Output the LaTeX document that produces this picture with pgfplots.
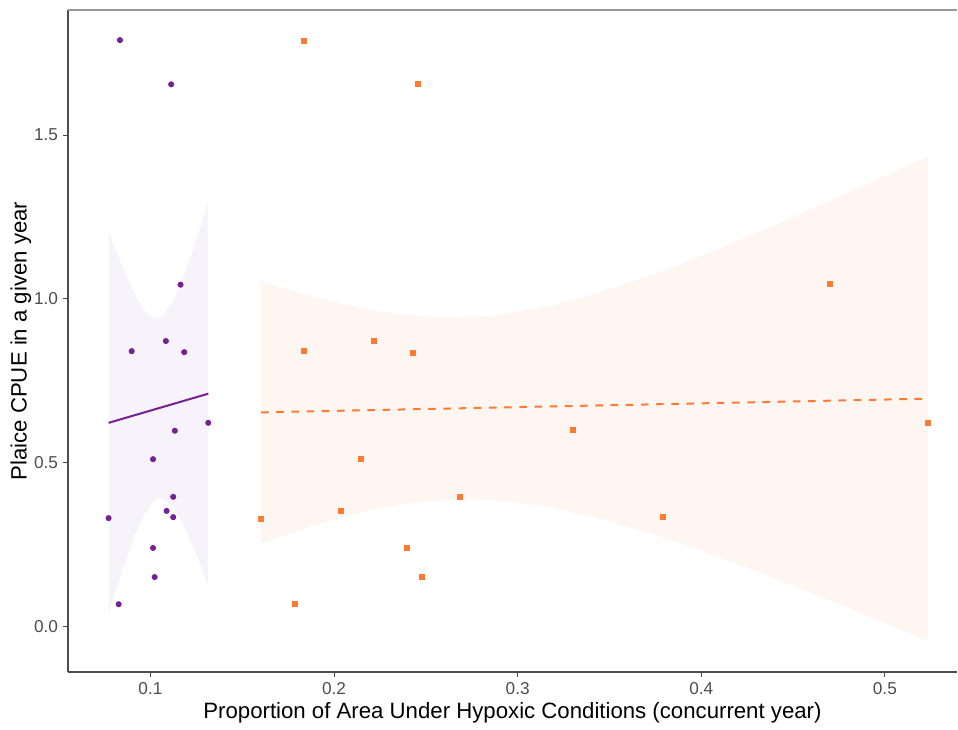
\documentclass[border=0pt]{standalone}
\usepackage{pgfplots}
\pgfplotsset{compat=1.18}
\usepackage{fontspec}
\setmainfont{Liberation Sans}
\usepgfplotslibrary{fillbetween}
\definecolor{cpurple}{HTML}{762193}
\definecolor{corange}{HTML}{FF7A33}
\definecolor{rpurple}{HTML}{F7F3FA}
\definecolor{rorange}{HTML}{FFF6F2}
\definecolor{ticktext}{HTML}{4D4D4D}

\pgfplotstableread{
x y
0.0834 1.790
0.1113 1.655
0.1164 1.043
0.1084 0.871
0.0898 0.840
0.1184 0.837
0.1315 0.621
0.1133 0.597
0.1014 0.510
0.1124 0.395
0.0772 0.330
0.1088 0.352
0.1124 0.333
0.1014 0.239
0.1023 0.150
0.0827 0.067
}\purplepts

\pgfplotstableread{
x y
0.1834 1.789
0.2459 1.656
0.2216 0.871
0.1838 0.840
0.2431 0.836
0.3301 0.599
0.4701 1.045
0.5237 0.621
0.2145 0.510
0.2040 0.352
0.1602 0.328
0.2687 0.395
0.3789 0.334
0.2399 0.238
0.2481 0.150
0.1787 0.067
}\orangepts

\pgfplotstableread{
x fit up lo
0.0772 0.6210 1.207 0.035
0.0820 0.6289 1.136 0.122
0.0870 0.6371 1.067 0.207
0.0920 0.6453 1.007 0.284
0.0970 0.6535 0.962 0.345
0.1020 0.6617 0.940 0.383
0.1043 0.6655 0.9405 0.3905
0.1070 0.6699 0.950 0.390
0.1120 0.6781 0.990 0.366
0.1170 0.6863 1.053 0.320
0.1220 0.6945 1.130 0.259
0.1270 0.7027 1.216 0.189
0.1315 0.7101 1.298 0.122
}\purplefit

\pgfplotstableread{
x fit up lo
0.1602 0.6530 1.0540 0.2520
0.1800 0.6553 1.0200 0.2910
0.2000 0.6576 0.9895 0.3257
0.2200 0.6599 0.9655 0.3543
0.2400 0.6622 0.9493 0.3751
0.2680 0.6654 0.9424 0.3884
0.2900 0.6679 0.9512 0.3846
0.3200 0.6714 0.9817 0.3611
0.3500 0.6748 1.0289 0.3207
0.3800 0.6783 1.0876 0.2690
0.4100 0.6818 1.1536 0.2100
0.4400 0.6852 1.2245 0.1459
0.4700 0.6887 1.2986 0.0788
0.5000 0.6922 1.3750 0.0094
0.5237 0.6950 1.4365 -0.0465
}\orangefit

\begin{document}
\begin{tikzpicture}
\begin{axis}[
  scale only axis,
  width=444.5pt, height=331pt,
  xmin=0.0551, xmax=0.5393,
  ymin=-0.140, ymax=1.882,
  xtick={0.1,0.2,0.3,0.4,0.5},
  ytick={0,0.5,1.0,1.5},
  xticklabels={0.1,0.2,0.3,0.4,0.5},
  yticklabels={0.0,0.5,1.0,1.5},
  tick align=outside,
  major tick length=2.5pt,
  tick style={color=ticktext, line width=0.5pt},
  xtick pos=bottom, ytick pos=left,
  ticklabel style={font=\fontsize{8.6}{10}\selectfont, text=ticktext},
  xticklabel style={yshift=1pt},
  yticklabel style={xshift=1pt},
  axis line style={draw=none},
  xlabel={Proportion of Area Under Hypoxic Conditions (concurrent year)},
  ylabel={Plaice CPUE in a given year},
  label style={font=\fontsize{11.1}{13}\selectfont, text=black},
  xlabel style={yshift=3pt},
  ylabel style={yshift=-5.5pt},
  clip=false,
]
% ribbons
\addplot[draw=none, name path=pu] table[x=x, y=up] {\purplefit};
\addplot[draw=none, name path=pl] table[x=x, y=lo] {\purplefit};
\addplot[fill=rpurple, draw=none] fill between[of=pu and pl];
\addplot[draw=none, name path=ou] table[x=x, y=up] {\orangefit};
\addplot[draw=none, name path=ol] table[x=x, y=lo] {\orangefit};
\addplot[fill=rorange, draw=none] fill between[of=ou and ol];
% fit lines
\addplot[cpurple, line width=1pt] table[x=x, y=fit] {\purplefit};
\addplot[corange, line width=1pt, dash pattern=on 3.8pt off 3.8pt] table[x=x, y=fit] {\orangefit};
% points
\addplot[only marks, mark=*, mark size=1.3pt, color=cpurple, mark options={draw=cpurple, fill=cpurple}] table[x=x, y=y] {\purplepts};
\addplot[only marks, mark=square*, mark size=1.25pt, color=corange, mark options={draw=corange, fill=corange}] table[x=x, y=y] {\orangepts};
% axis lines
\draw[color=ticktext, line width=0.6pt] (rel axis cs:0,0) -- (rel axis cs:1,0);
\draw[color=ticktext, line width=0.6pt] (rel axis cs:0,0) -- (rel axis cs:0,1);
\draw[color=gray!80, line width=0.6pt] (rel axis cs:0,1) -- (rel axis cs:1,1);
\coordinate (SW) at (rel axis cs:0,0);
\coordinate (NE) at (rel axis cs:1,1);
\end{axis}
\path ([shift={(-34pt,-26pt)}]SW) rectangle ([shift={(0.5pt,5pt)}]NE);
\end{tikzpicture}
\end{document}
